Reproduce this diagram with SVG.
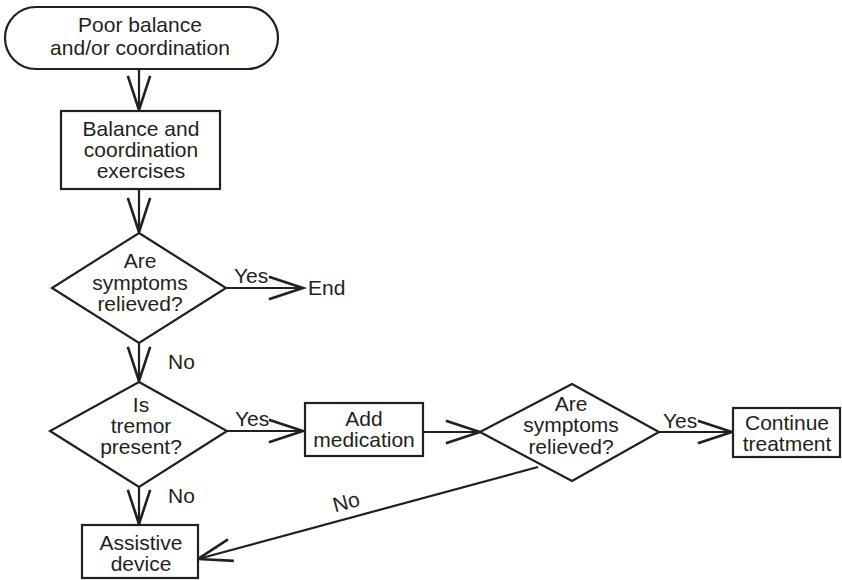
<svg xmlns="http://www.w3.org/2000/svg" width="842" height="580" viewBox="0 0 842 580">
  <style>
    .shape { fill: #ffffff; stroke: #231f20; stroke-width: 2.2; }
    .link { fill: none; stroke: #231f20; stroke-width: 2.2; }
    text { font-family: "Liberation Sans", Arial, sans-serif; font-size: 21px; fill: #231f20; }
    .c { text-anchor: middle; }
  </style>
  <defs>
    <marker id="arrow" markerUnits="userSpaceOnUse" markerWidth="40" markerHeight="30" refX="0" refY="0" viewBox="-32 -12 34 24" orient="auto" overflow="visible">
      <path d="M-29,-9.5 L0,0 L-29,9.5" fill="none" stroke="#231f20" stroke-width="2.2"/>
    </marker>
  </defs>

  <rect width="842" height="580" fill="#ffffff"/>

  <!-- connectors -->
  <g id="connectors">
    <line class="link" x1="139" y1="69" x2="139" y2="110" marker-end="url(#arrow)"/>
    <line class="link" x1="139" y1="189" x2="139" y2="232" marker-end="url(#arrow)"/>
    <line class="link" x1="226" y1="288" x2="303" y2="288" marker-end="url(#arrow)"/>
    <text x="234" y="283">Yes</text>
    <line class="link" x1="139" y1="343" x2="139" y2="381" marker-end="url(#arrow)"/>
    <text x="168" y="369" font-size="22">No</text>
    <line class="link" x1="227" y1="431" x2="303" y2="431" marker-end="url(#arrow)"/>
    <text x="235" y="426">Yes</text>
    <line class="link" x1="423" y1="432" x2="480" y2="432" marker-end="url(#arrow)"/>
    <line class="link" x1="659" y1="432" x2="732" y2="432" marker-end="url(#arrow)"/>
    <text x="663" y="428">Yes</text>
    <line class="link" x1="139" y1="487" x2="139" y2="524" marker-end="url(#arrow)"/>
    <text x="168" y="503" font-size="22">No</text>
    <line class="link" x1="538" y1="467" x2="198" y2="559" marker-end="url(#arrow)"/>
    <text class="c" x="348" y="509" transform="rotate(-15 348 509)">No</text>
  </g>

  <!-- start terminator -->
  <g id="start">
    <rect class="shape" x="5" y="7" width="273" height="62" rx="31" ry="31"/>
    <text class="c" x="140" y="32">Poor balance</text>
    <text class="c" x="140" y="55">and/or coordination</text>
  </g>

  <g id="exercises">
    <rect class="shape" x="61" y="111" width="159" height="78"/>
    <text class="c" x="141" y="136">Balance and</text>
    <text class="c" x="141" y="157">coordination</text>
    <text class="c" x="141" y="178">exercises</text>
  </g>

  <g id="relieved1">
    <polygon class="shape" points="139,233 226,288 139,343 52,288"/>
    <text class="c" x="140" y="268">Are</text>
    <text class="c" x="140" y="290">symptoms</text>
    <text class="c" x="140" y="311">relieved?</text>
  </g>

  <g id="end">
    <text x="308" y="295">End</text>
  </g>

  <g id="tremor">
    <polygon class="shape" points="139,382 227,431 139,487 50,431"/>
    <text class="c" x="141" y="412">Is</text>
    <text class="c" x="141" y="433">tremor</text>
    <text class="c" x="141" y="454">present?</text>
  </g>

  <g id="medication">
    <rect class="shape" x="305" y="403" width="118" height="53"/>
    <text class="c" x="364" y="426">Add</text>
    <text class="c" x="364" y="447">medication</text>
  </g>

  <g id="relieved2">
    <polygon class="shape" points="572,384 659,432 572,481 480,432"/>
    <text class="c" x="571" y="411">Are</text>
    <text class="c" x="571" y="432">symptoms</text>
    <text class="c" x="571" y="454">relieved?</text>
  </g>

  <g id="continue">
    <rect class="shape" x="733" y="408" width="107" height="49"/>
    <text class="c" x="787" y="430">Continue</text>
    <text class="c" x="787" y="451">treatment</text>
  </g>

  <g id="assistive">
    <rect class="shape" x="82" y="525" width="116" height="53"/>
    <text class="c" x="141" y="550">Assistive</text>
    <text class="c" x="141" y="571">device</text>
  </g>
</svg>
